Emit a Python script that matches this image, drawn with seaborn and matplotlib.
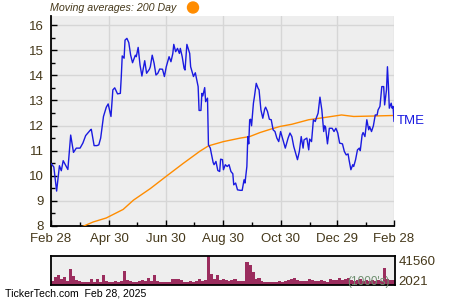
import numpy as np
import pandas as pd
import matplotlib
matplotlib.use("Agg")
import matplotlib.pyplot as plt
import matplotlib.patches as mpatches
import seaborn as sns

# ---------------- data ----------------
start_date = "2024-02-28"
end_date = "2025-02-28"

price_days = [0, 3, 6, 9, 11, 13, 18, 21, 24, 27, 31, 34, 37, 42, 43, 46, 49, 51, 53, 56, 59, 61, 64, 66, 68,
              71, 74, 75, 76, 78, 79, 81, 83, 85, 87, 90, 91, 93, 95, 97, 100, 102, 105, 106, 108, 110, 112,
              114, 116, 119, 121, 123, 126, 128, 130, 131, 133, 135, 137, 138, 140, 142, 143, 145, 148, 149,
              152, 154, 157, 158, 160, 161, 162, 164, 165, 167, 168, 170, 171, 173, 174, 176, 178, 180, 181,
              183, 184, 186, 188, 190, 192, 194, 195, 197, 199, 202, 204, 206, 207, 209, 210, 211, 212, 213,
              214, 216, 217, 219, 221, 222, 224, 226, 228, 229, 231, 233, 235, 237, 239, 241, 243, 245, 248,
              250, 253, 255, 257, 259, 261, 263, 265, 267, 269, 270, 273, 275, 276, 278, 280, 282, 283, 285,
              287, 289, 291, 292, 293, 295, 297, 300, 302, 304, 306, 308, 311, 313, 315, 317, 318, 320, 322,
              323, 325, 327, 329, 330, 332, 333, 335, 337, 339, 340, 342, 344, 346, 348, 349, 351, 353, 355,
              356, 358, 359, 360, 361, 363, 364, 365, 366]
price_vals = [10.49, 10.35, 9.39, 10.40, 10.20, 10.60, 10.25, 11.62, 10.93, 11.10, 11.10, 11.30, 11.60, 11.82,
              11.85, 11.20, 11.20, 11.23, 11.50, 12.36, 12.73, 12.86, 12.36, 13.42, 13.50, 13.26, 13.28, 13.95,
              14.77, 14.68, 15.40, 15.47, 15.30, 14.80, 14.50, 14.80, 14.74, 15.11, 14.41, 13.97, 14.58, 14.08,
              14.24, 14.34, 14.80, 14.48, 14.01, 14.08, 14.25, 14.24, 13.95, 14.34, 14.74, 14.54, 14.87, 15.23,
              14.94, 15.07, 14.87, 15.07, 14.74, 14.28, 14.21, 15.23, 14.87, 14.34, 13.95, 14.10, 13.55, 12.60,
              12.60, 13.28, 13.18, 13.51, 12.95, 13.09, 11.23, 11.10, 10.90, 10.53, 10.44, 10.57, 10.21, 10.17,
              10.66, 10.64, 10.24, 10.44, 10.37, 10.44, 10.17, 10.08, 9.64, 9.71, 9.44, 9.42, 9.42, 9.84, 9.71,
              10.37, 11.56, 11.27, 12.23, 12.25, 11.99, 12.89, 13.13, 13.68, 13.48, 13.42, 12.62, 12.29, 12.65,
              12.73, 12.56, 12.25, 12.23, 11.83, 11.76, 11.50, 11.36, 11.76, 11.36, 11.10, 11.50, 11.70, 11.56,
              11.17, 10.90, 10.64, 10.97, 11.56, 11.10, 11.43, 11.50, 11.03, 11.46, 11.36, 12.23, 12.16, 12.29,
              12.49, 13.13, 12.62, 11.76, 11.99, 11.93, 11.27, 11.89, 11.89, 11.76, 11.89, 11.70, 11.30, 11.27,
              10.97, 10.83, 10.87, 10.64, 10.24, 10.44, 10.37, 10.64, 11.03, 11.10, 11.00, 11.63, 11.72, 11.56,
              12.23, 11.83, 11.96, 11.76, 11.99, 12.42, 12.42, 12.62, 12.76, 13.55, 13.55, 12.82, 13.42, 14.34,
              13.62, 12.69, 12.89, 12.69, 12.76, 12.16]

ma_days = [24, 30, 45, 59, 77, 88, 106, 123, 141, 159, 168, 184, 202, 212, 223, 234, 244, 257, 275, 292,
           310, 323, 346, 366]
ma_vals = [7.80, 7.92, 8.16, 8.32, 8.66, 9.03, 9.49, 9.98, 10.49, 10.98, 11.19, 11.36, 11.50, 11.56, 11.72,
           11.85, 11.96, 12.05, 12.23, 12.32, 12.42, 12.36, 12.38, 12.40]

volume_k = [6500, 11500, 15000, 9000, 11500, 6500, 23000, 13500, 7500, 6000, 4000, 4000, 4500, 8000, 4000,
            8000, 5000, 14000, 6000, 5000, 4500, 5300, 4500, 6000, 20000, 7500, 5300, 4500, 4500, 5300, 7500,
            6000, 10000, 6000, 15000, 6000, 4500, 4000, 4000, 4500, 9000, 8000, 8000, 7000, 4500, 4500, 5300,
            4500, 6000, 9000, 6000, 7000, 41560, 16500, 9000, 15000, 7500, 9000, 7500, 6000, 7500, 9000, 6000,
            5300, 6000, 33000, 29000, 19000, 9000, 10000, 6000, 4500, 4500, 4000, 4000, 4000, 5300, 4500, 5300,
            7500, 9000, 10000, 7500, 6000, 6000, 6000, 9000, 7500, 5300, 6000, 7500, 6000, 4500, 8000, 7500,
            7500, 10500, 7000, 9000, 10000, 7500, 5300, 7500, 9000, 6000, 7500, 6000, 7500, 5300, 7000, 6000,
            25000, 8000, 7500, 7500]

x_ticks = ["2024-02-28", "2024-04-30", "2024-06-30", "2024-08-30", "2024-10-30", "2024-12-29", "2025-02-28"]
x_ticklabels = ["Feb 28", "Apr 30", "Jun 30", "Aug 30", "Oct 30", "Dec 29", "Feb 28"]
x_minor = ["2024-03-30", "2024-05-30", "2024-07-30", "2024-09-30", "2024-11-30", "2025-01-29"]
y_ticks = [8, 9, 10, 11, 12, 13, 14, 15, 16]
vol_labels = ["41560", "2021"]

# ---------------- build frames ----------------
t0 = pd.Timestamp(start_date)
t1 = pd.Timestamp(end_date)
price_df = pd.DataFrame({"date": t0 + pd.to_timedelta(price_days, unit="D"), "price": price_vals})
ma_df = pd.DataFrame({"date": t0 + pd.to_timedelta(ma_days, unit="D"), "ma": ma_vals})
vol_dates = pd.date_range(t0, t1, periods=len(volume_k) + 1)[:-1]
vol_df = pd.DataFrame({"date": vol_dates, "vol": volume_k})

sns.set_style("white")
plt.rcParams["font.family"] = ["Liberation Sans", "DejaVu Sans"]

txt_col = "#45381a"
bg = "#eeeeee"

fig = plt.figure(figsize=(4.5, 3), dpi=100)
ax = fig.add_axes([51 / 450, 1 - 226 / 300, 343 / 450, 210 / 300])
axv = fig.add_axes([51 / 450, 1 - 285 / 300, 344 / 450, 29 / 300])

ax.set_facecolor(bg)
sns.lineplot(data=ma_df, x="date", y="ma", ax=ax, color="#ff8c00", lw=1.0, zorder=3)
sns.lineplot(data=price_df, x="date", y="price", ax=ax, color="#1a1ae0", lw=1.0, zorder=4)

ax.set_xlim(t0, t1)
ax.set_ylim(8, 16.36)
ax.set_xlabel("")
ax.set_ylabel("")
ax.set_xticks(pd.to_datetime(x_ticks))
ax.set_xticklabels(x_ticklabels)
ax.set_xticks(pd.to_datetime(x_minor), minor=True)
ax.set_yticks(y_ticks)
ax.set_yticklabels([str(v) for v in y_ticks])
ax.set_yticks(np.arange(8.5, 16.5, 1.0), minor=True)
ax.grid(True, which="major", color="#d6d6d6", lw=1.0, zorder=0)
ax.set_axisbelow(True)
for s in ["top", "right"]:
    ax.spines[s].set_visible(False)
for s in ["left", "bottom"]:
    ax.spines[s].set_color("black")
    ax.spines[s].set_linewidth(1.3)
ax.tick_params(axis="both", which="major", direction="in", length=4, width=1, color="black",
               labelsize=9.5, labelcolor=txt_col, pad=5)
ax.tick_params(axis="both", which="minor", direction="in", length=3, width=1, color="black")
ax.tick_params(axis="y", which="both", left=True)
ax.tick_params(axis="x", which="both", bottom=True)

# TME label
ax.text(1.008, (12.17 - 8) / (16.36 - 8), "TME", transform=ax.transAxes, color="#1a1ae0",
        fontsize=9.5, va="center", ha="left")

# volume panel
axv.set_facecolor(bg)
axv.bar(vol_df["date"], vol_df["vol"], width=3.3, align="edge", color="#9b2d5e", linewidth=0)
axv.set_xlim(t0, t1)
axv.set_ylim(0, 42000)
axv.set_xticks([])
axv.set_yticks([])
for s in axv.spines.values():
    s.set_color("black")
    s.set_linewidth(1.3)
axv.text(1.01, 0.78, vol_labels[0], transform=axv.transAxes, color=txt_col, fontsize=9.5,
         va="center", ha="left")
axv.text(1.01, 0.12, vol_labels[1], transform=axv.transAxes, color=txt_col, fontsize=9.5,
         va="center", ha="left")
axv.text(0.985, 0.12, "(1000's)", transform=axv.transAxes, color="#6f8f70", fontsize=8.5,
         va="center", ha="right")

# header / footer
fig.text(50 / 450, 1 - 8 / 300, "Moving averages: 200 Day", fontsize=7.7, style="italic",
         color=txt_col, va="center", ha="left")
fig.add_artist(mpatches.Ellipse((193 / 450, 1 - 7.5 / 300), 11 / 450, 11 / 300,
                                transform=fig.transFigure, color="#ff8c00"))
fig.text(5 / 450, 1 - 293 / 300, "TickerTech.com  Feb 28, 2025", fontsize=7.6, color="black",
         va="center", ha="left")

fig.savefig("out.png", dpi=100, facecolor="white")
